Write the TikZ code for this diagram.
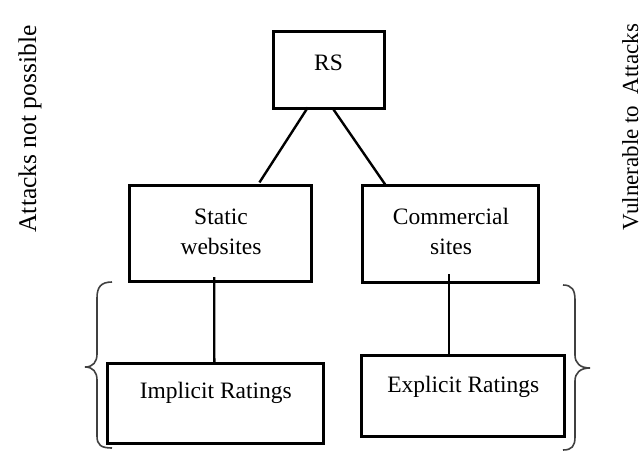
\documentclass[tikz,border=0pt]{standalone}
\usepackage{fontspec}
\setmainfont{Liberation Serif}
\usetikzlibrary{calc}
\tikzset{
  box/.style={draw, line width=3pt, inner sep=0pt, minimum width=#1},
  lbl/.style={anchor=base, inner sep=0pt, font=\fontsize{23.5}{30}\selectfont},
  side/.style={anchor=base, rotate=90, inner sep=0pt},
  conn/.style={line width=2.4pt},
  brace/.style={line width=1.6pt, draw=black!75}
}
\begin{document}
\begin{tikzpicture}[x=1pt,y=-1pt]
\useasboundingbox (0,0) rectangle (643,451);
% boxes
\node[box=111pt, minimum height=77pt] (rs) at (328.5,69.5) {};
\node[box=181.7pt, minimum height=95.7pt] (sw) at (220.8,233.8) {};
\node[box=176.3pt, minimum height=96.7pt] (cs) at (450.8,234.3) {};
\node[box=215.6pt, minimum height=79.7pt] (ir) at (215.5,403.2) {};
\node[box=203.3pt, minimum height=80.7pt] (er) at (463.3,396.3) {};
% labels
\node[lbl] (rst) at (328.5,70) {RS};
\node[lbl] (swt1) at (221,224.5) {Static};
\node[lbl] (swt2) at (221,254.5) {websites};
\node[lbl] (cst1) at (451,224) {Commercial};
\node[lbl] (cst2) at (451,254.5) {sites};
\node[lbl] (irt) at (215.8,398.3) {Implicit Ratings};
\node[lbl] (ert) at (463.3,392.7) {Explicit Ratings};
% side texts
\node[side, font=\fontsize{25.5}{30}\selectfont] (left) at (36,129) {Attacks not possible};
\node[side, font=\fontsize{23}{30}\selectfont] (right) at (638,127) {Vulnerable to\ \ Attacks};
% connectors
\draw[conn] ($(rs.south west)+(36.3,-2)$) -- ($(sw.north west)+(131,-2)$);
\draw[conn] ($(rs.south west)+(62,0)$) -- ($(cs.north west)+(24,0)$);
\draw[conn] ($(sw.south west)+(85.8,-6)$) -- ($(ir.north west)+(108.1,0)$);
\draw[conn] ($(cs.south west)+(87.8,-10)$) -- ($(er.north west)+(88.8,0)$);
% braces
\coordinate (lb) at (85,367);
\coordinate (rb) at (590,368);
\draw[brace] (112,282) .. controls (101,282) and (97,287) .. (97,298) -- (97,354)
  .. controls (97,362) and (93,367) .. (lb)
  .. controls (93,367) and (97,372) .. (97,380) -- (97,436)
  .. controls (97,445) and (101,448) .. (112,448);
\draw[brace] (563,285) .. controls (572,285) and (575,290) .. (575,300) -- (575,355)
  .. controls (575,363) and (580,368) .. (rb)
  .. controls (580,368) and (575,373) .. (575,381) -- (575,437)
  .. controls (575,446) and (572,450) .. (563,450);
\end{tikzpicture}
\end{document}
